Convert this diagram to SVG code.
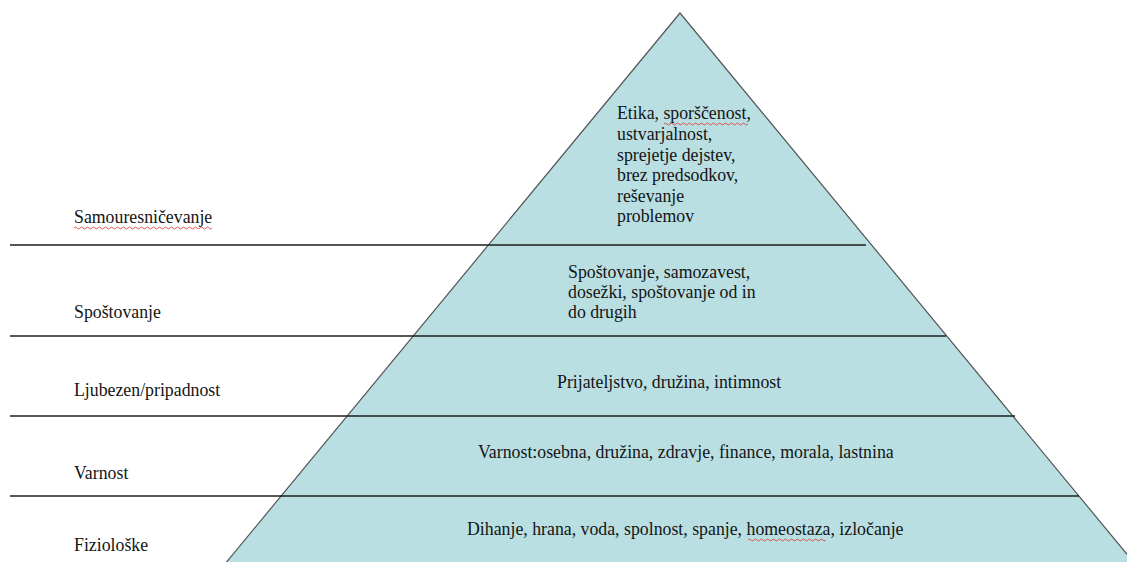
<svg xmlns="http://www.w3.org/2000/svg" width="1127" height="562" viewBox="0 0 1127 562">
<style>
text{font-family:"Liberation Serif","Times New Roman",serif;font-size:17.8px;fill:#141414}
.tri{fill:#b9dfe3;stroke:#555;stroke-width:1.2}
.ln{stroke:#1e1e1e;stroke-width:1.5;fill:none}
.sp{stroke:#e03030;stroke-width:0.8;fill:none}
</style>
<rect width="1127" height="562" fill="#fff"/>
<g id="pyramid">
<polygon class="tri" points="680,13 220,570 1140,570"/>
</g>
<g id="connectors">
<line class="ln" x1="10" y1="245" x2="866" y2="245"/>
<line class="ln" x1="10" y1="336" x2="946" y2="336"/>
<line class="ln" x1="10" y1="416" x2="1015" y2="416"/>
<line class="ln" x1="10" y1="496" x2="1079" y2="496"/>
</g>
<g id="level-samouresnicevanje">
<text x="74" y="223">Samouresničevanje</text>
<path class="sp" d="M74,228 q1.5,-2 3,0 t3,0 t3,0 t3,0 t3,0 t3,0 t3,0 t3,0 t3,0 t3,0 t3,0 t3,0 t3,0 t3,0 t3,0 t3,0 t3,0 t3,0 t3,0 t3,0 t3,0 t3,0 t3,0 t3,0 t3,0 t3,0 t3,0 t3,0 t3,0 t3,0 t3,0 t3,0 t3,0 t3,0 t3,0 t3,0 t3,0 t3,0 t3,0 t3,0 t3,0 t3,0 t3,0 t3,0 t3,0 t3,0"/>
<text x="617" y="119">Etika, sporščenost,</text>
<path class="sp" d="M664,124 q1.5,-2 3,0 t3,0 t3,0 t3,0 t3,0 t3,0 t3,0 t3,0 t3,0 t3,0 t3,0 t3,0 t3,0 t3,0 t3,0 t3,0 t3,0 t3,0 t3,0 t3,0 t3,0 t3,0 t3,0 t3,0 t3,0 t3,0 t3,0 t3,0"/>
<text x="617" y="140">ustvarjalnost,</text>
<text x="617" y="160.5">sprejetje dejstev,</text>
<text x="617" y="181">brez predsodkov,</text>
<text x="617" y="201.5">reševanje</text>
<text x="617" y="222">problemov</text>
</g>
<g id="level-spostovanje">
<text x="74" y="318">Spoštovanje</text>
<text x="568" y="278">Spoštovanje, samozavest,</text>
<text x="568" y="298">dosežki, spoštovanje od in</text>
<text x="568" y="318">do drugih</text>
</g>
<g id="level-ljubezen">
<text x="74" y="396">Ljubezen/pripadnost</text>
<text x="557" y="388">Prijateljstvo, družina, intimnost</text>
</g>
<g id="level-varnost">
<text x="74" y="479">Varnost</text>
<text x="478" y="458">Varnost:osebna, družina, zdravje, finance, morala, lastnina</text>
</g>
<g id="level-fizioloske">
<text x="74" y="551">Fiziološke</text>
<text x="467" y="535">Dihanje, hrana, voda, spolnost, spanje, homeostaza, izločanje</text>
<path class="sp" d="M748,540 q1.5,-2 3,0 t3,0 t3,0 t3,0 t3,0 t3,0 t3,0 t3,0 t3,0 t3,0 t3,0 t3,0 t3,0 t3,0 t3,0 t3,0 t3,0 t3,0 t3,0 t3,0 t3,0 t3,0 t3,0 t3,0 t3,0 t3,0"/>
</g>
</svg>
